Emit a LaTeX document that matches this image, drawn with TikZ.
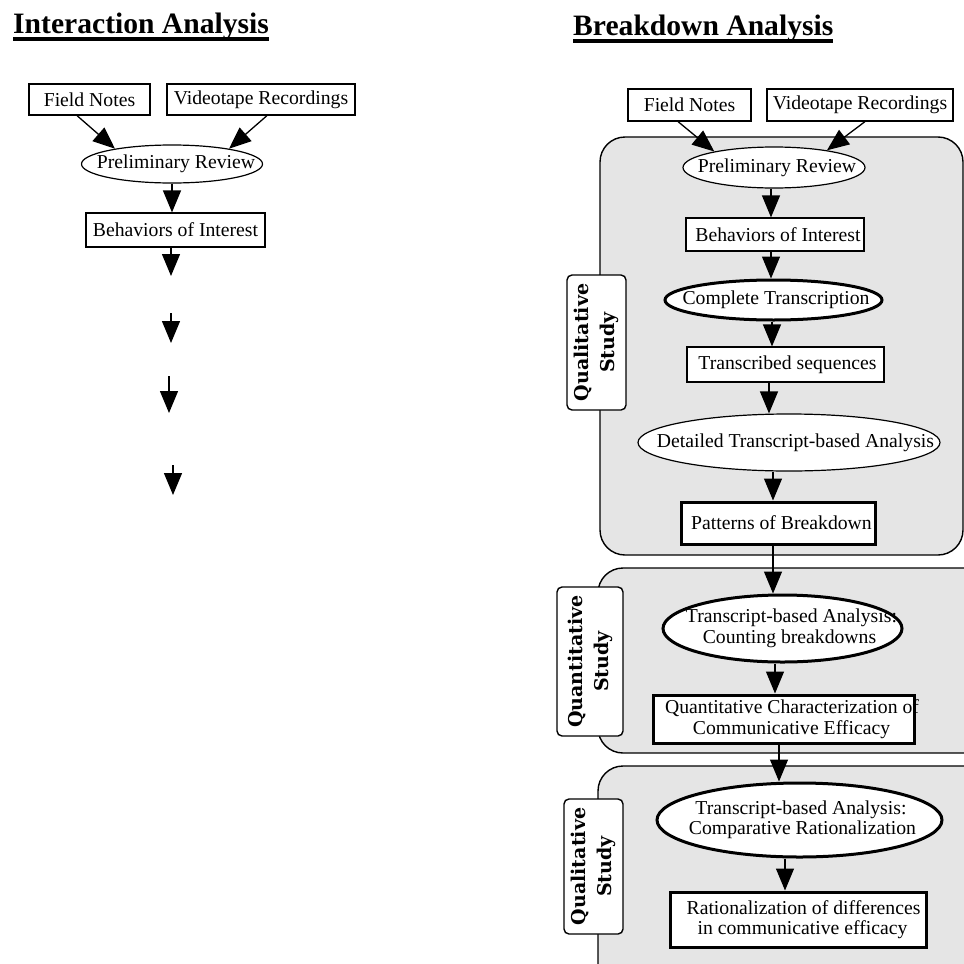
\documentclass[tikz,border=0pt]{standalone}
\usepackage{fontspec}
\setmainfont{Liberation Serif}
\newfontfamily\tagface{DejaVu Serif}
\usetikzlibrary{arrows.meta,shapes.geometric}

% heading with a heavy underline
\newcommand{\headline}[1]{\setbox0\hbox{#1}\rlap{\rule[-8pt]{\wd0}{3.6pt}}\box0}
\newcommand{\bodysize}{\fontsize{19.7}{20.5}\selectfont}
% a line of text that does not widen its shape
\newcommand{\zw}[1]{\makebox[0pt][c]{#1}}

\tikzset{
  box/.style={draw, rectangle, fill=white, line width=1.2pt, inner sep=0pt,
              align=center, font=\bodysize},
  oval/.style={draw, ellipse, fill=white, line width=1.2pt, inner sep=0pt,
               align=center, font=\bodysize},
  heavy/.style={line width=3pt},
  flow/.style={-{Triangle[length=22pt,width=18pt]}, line width=1.3pt},
  panel/.style={draw, rounded corners=25pt, fill=black!10, line width=1.4pt},
  tag/.style={draw, rounded corners=5pt, fill=white, line width=1.4pt,
              inner sep=0pt, rotate=90, align=center,
              font=\tagface\bfseries\fontsize{19}{26}\selectfont},
  title/.style={anchor=base west, inner sep=0pt,
                font=\bfseries\fontsize{29.6}{34}\selectfont}
}

\begin{document}
\begin{tikzpicture}[x=1pt, y=-1pt]
\path[use as bounding box, clip] (0,0) rectangle (964,964);

% ---------------- left column: interaction analysis ----------------
\node[title] (tl) at (13,33) {\headline{Interaction Analysis}};

\node[box, minimum width=121pt, minimum height=31pt] (fn1) at (89.5,99.5) {Field Notes};
\node[box, minimum width=188pt, minimum height=31pt] (vr1) at (261,99.5) {Videotape Recordings};
\node[oval, minimum width=181pt, minimum height=38pt] (pr1) at (172,164) {\zw{\hspace*{8pt}Preliminary Review}};
\node[box, minimum width=179pt, minimum height=34pt] (bi1) at (175.5,230) {Behaviors of Interest};

\draw[flow] ([xshift=-12.5pt]fn1.south) -- (pr1.165);
\draw[flow] ([xshift=6pt]vr1.south) -- (pr1.15);
\draw[flow] (pr1.south) -- (pr1.south |- bi1.north);

\coordinate (d1e) at (171,276);
\coordinate (d2s) at (171,313);
\coordinate (d2e) at (171,343);
\coordinate (d3s) at (169,376);
\coordinate (d3e) at (169,413);
\coordinate (d4s) at (173,465);
\coordinate (d4e) at (173,495);
\draw[flow] (bi1.south -| d1e) -- (d1e);
\draw[flow] (d2s) -- (d2e);
\draw[flow] (d3s) -- (d3e);
\draw[flow] (d4s) -- (d4e);

% ---------------- right column: breakdown analysis ----------------
\node[title] (tr) at (573,35) {\headline{Breakdown Analysis}};

% study phases
\draw[panel] (600,137) rectangle (963,555);
\draw[panel] (598,568) rectangle (995,753);
\draw[panel] (598,766) rectangle (995,990);

\node[tag, minimum width=135pt, minimum height=59pt] (q1) at (596.5,342.5) {Qualitative\\Study};
\node[tag, minimum width=149pt, minimum height=66pt] (q2) at (590,661.5) {Quantitative\\Study};
\node[tag, minimum width=135pt, minimum height=59pt] (q3) at (593.5,866.5) {Qualitative\\Study};

\node[box, minimum width=123pt, minimum height=32pt] (fn2) at (689.5,105) {Field Notes};
\node[box, minimum width=186pt, minimum height=32pt] (vr2) at (860,105) {Videotape Recordings};
\node[oval, minimum width=182pt, minimum height=41pt] (pr2) at (774,167.5) {\zw{\hspace*{6pt}Preliminary Review}};
\node[box, minimum width=178pt, minimum height=33pt] (bi2) at (775,234.5) {\hspace*{6pt}Behaviors of Interest};
\node[oval, heavy, minimum width=217pt, minimum height=40pt] (ct) at (773.5,300) {\zw{\hspace*{5pt}Complete Transcription}};
\node[box, minimum width=197pt, minimum height=35pt] (ts) at (785.5,364.5) {\hspace*{4pt}Transcribed sequences};
\node[oval, minimum width=302pt, minimum height=57pt] (dta) at (789,442.5) {\zw{\hspace*{13pt}Detailed Transcript-based Analysis}};
\node[box, heavy, minimum width=194pt, minimum height=42pt] (pob) at (778,523) {\hspace*{7pt}Patterns of Breakdown};
\node[oval, heavy, minimum width=239pt, minimum height=67pt] (tba) at (782.5,628.5)
  {\zw{\hspace*{18pt}Transcript-based Analysis:}\\\zw{\hspace*{14pt}Counting breakdowns}};
\node[box, heavy, minimum width=261pt, minimum height=48pt] (qc) at (783.5,719)
  {\zw{\hspace*{17pt}Quantitative Characterization of}\\\zw{\hspace*{16pt}Communicative Efficacy}};
\node[oval, heavy, minimum width=285pt, minimum height=74pt] (cr) at (799.5,820)
  {\zw{\hspace*{3pt}Transcript-based Analysis:}\\\zw{\hspace*{6pt}Comparative Rationalization}};
\node[box, heavy, minimum width=256pt, minimum height=55pt] (rd) at (798,919.5)
  {\zw{\hspace*{11pt}Rationalization of differences}\\\zw{\hspace*{9pt}in communicative efficacy}};

\draw[flow] ([xshift=-11.5pt]fn2.south) -- (pr2.165);
\draw[flow] ([xshift=5pt]vr2.south) -- (pr2.18);
\draw[flow] ([xshift=-3pt]pr2.south) -- ([xshift=-3pt]pr2.south |- bi2.north);
\draw[flow] ([xshift=-4pt]bi2.south) -- ([xshift=-4pt]bi2.south |- ct.north);
\draw[flow] ([xshift=-1.5pt]ct.south) -- ([xshift=-1.5pt]ct.south |- ts.north);
\draw[flow] ([xshift=-16.5pt]ts.south) -- ([xshift=-16.5pt]ts.south |- dta.north);
\draw[flow] ([xshift=-16pt]dta.south) -- ([xshift=-16pt]dta.south |- pob.north);
\draw[flow] ([xshift=-5pt]pob.south) -- ([xshift=-5pt]pob.south |- tba.north);
\draw[flow] ([xshift=-7.5pt]tba.south) -- ([xshift=-7.5pt]tba.south |- qc.north);
\draw[flow] ([xshift=-4.5pt]qc.south) -- ([xshift=-4.5pt]qc.south |- cr.north);
\draw[flow] ([xshift=-14.5pt]cr.south) -- ([xshift=-14.5pt]cr.south |- rd.north);
\end{tikzpicture}
\end{document}
